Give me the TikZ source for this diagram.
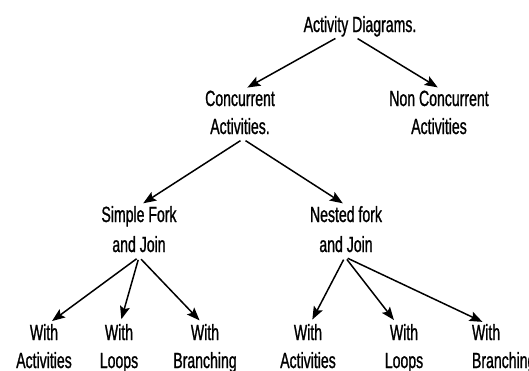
\documentclass[tikz,border=0pt]{standalone}
\usepackage{fontspec}
\setmainfont{Liberation Sans}[FakeStretch=0.64,FakeBold=1]
\usetikzlibrary{arrows.meta}
\newcommand{\upstrut}{\rule{0pt}{16pt}}
\newcommand{\dnstrut}{\rule[-5pt]{0pt}{5pt}}
\tikzset{
  lbl/.style={inner sep=0pt, outer sep=0pt, align=center, anchor=north, font=\fontsize{22pt}{28pt}\selectfont},
  lblwide/.style={lbl, font=\fontsize{22pt}{30pt}\selectfont},
  arr/.style={line width=1.5pt, -{Stealth[length=13pt,width=10pt,inset=2.5pt]}, shorten <=3pt, shorten >=5pt}
}
\begin{document}
\begin{tikzpicture}[x=1pt,y=-1pt]
\useasboundingbox (0,0) rectangle (529,370);
\node[lbl] (top) at (360,16) {\upstrut Activity Diagrams.\dnstrut};
\node[lbl] (conc) at (240,90) {\upstrut Concurrent\\Activities.\dnstrut};
\node[lbl] (nonc) at (439,90) {\upstrut Non Concurrent\\Activities\dnstrut};
\node[lblwide] (simple) at (139,206) {\upstrut Simple Fork\\and Join\dnstrut};
\node[lblwide] (nested) at (346,206) {\upstrut Nested fork\\and Join\dnstrut};
\node[lbl] (a1) at (44,324) {\upstrut With\\Activities};
\node[lbl] (a2) at (119,324) {\upstrut With\\Loops};
\node[lbl] (a3) at (205,324) {\upstrut With\\Branching};
\node[lbl] (b1) at (308,324) {\upstrut With\\Activities};
\node[lbl] (b2) at (404,324) {\upstrut With\\Loops};
\node[lbl, align=left, anchor=north west] (b3) at (472,324) {\upstrut With\\Branching};

\draw[arr] ([xshift=-22pt]top.south) -- ([xshift=3pt]conc.north);
\draw[arr] ([xshift=-5pt]top.south) -- ([xshift=3pt]nonc.north);
\draw[arr] ([xshift=3pt]conc.south) -- (simple.north);
\draw[arr] ([xshift=3pt]conc.south) -- ([xshift=1pt]nested.north);
\draw[arr] (simple.south) -- ([xshift=4pt]a1.north);
\draw[arr] (simple.south) -- ([xshift=1pt]a2.north);
\draw[arr] (simple.south) -- ([xshift=-2pt]a3.north);
\draw[arr] ([xshift=-1pt]nested.south) -- ([xshift=2pt]b1.north);
\draw[arr] ([xshift=-1pt]nested.south) -- ([xshift=-7pt]b2.north);
\draw[arr] ([xshift=-1pt]nested.south) -- ([xshift=15pt]b3.north west);
\end{tikzpicture}
\end{document}
